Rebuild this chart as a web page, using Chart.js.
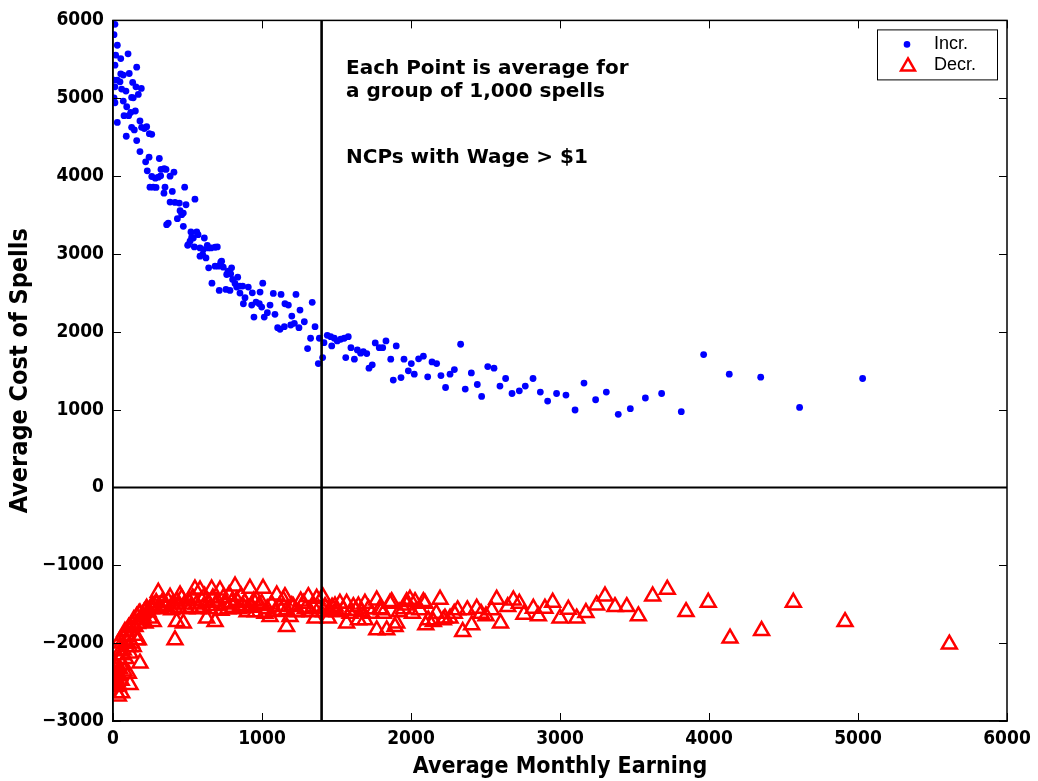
<!DOCTYPE html>
<html>
<head>
<meta charset="utf-8">
<script src="https://cdn.jsdelivr.net/npm/chart.js@4.4.1/dist/chart.umd.min.js"></script>
<style>
html,body{margin:0;padding:0;background:#ffffff;}
#c{display:block;}
</style>
</head>
<body>
<canvas id="c" width="1038" height="781"></canvas>
<script>
// ---------- data ----------
const xTicks = [0, 1000, 2000, 3000, 4000, 5000, 6000];
const yTicks = [-3000, -2000, -1000, 0, 1000, 2000, 3000, 4000, 5000, 6000];
const xLabel = 'Average Monthly Earning';
const yLabel = 'Average Cost of Spells';
const seriesNames = ['Incr.', 'Decr.'];
const noteLines = ['Each Point is average for', 'a group of 1,000 spells', 'NCPs with Wage > $1'];
const wageCut = 1400;   // vertical reference line (x)
const zeroLine = 0;     // horizontal reference line (y)

const incrPoints = [
[13,5950],[7,5817],[29,5681],[18,5553],[52,5510],[101,5570],[13,5425],[159,5399],[52,5314],[109,5318],
[69,5297],[7,5233],[29,5233],[47,5211],[132,5203],[154,5147],[190,5126],[13,5147],[58,5118],[87,5092],
[170,5049],[136,5006],[125,5010],[7,5006],[69,4964],[13,4942],[92,4891],[150,4836],[74,4776],[105,4776],
[119,4818],[29,4690],[181,4708],[125,4626],[143,4593],[192,4626],[226,4635],[210,4610],[244,4545],[260,4537],
[89,4512],[159,4456],[181,4315],[242,4243],[311,4226],[219,4183],[230,4068],[322,4085],[344,4094],[356,4085],
[260,3995],[284,3973],[304,3986],[320,4004],[383,3999],[409,4050],[248,3858],[270,3858],[289,3854],[349,3858],
[481,3858],[342,3781],[398,3803],[550,3704],[383,3666],[416,3662],[445,3653],[490,3632],[450,3556],[472,3525],
[461,3504],[432,3453],[371,3397],[360,3376],[472,3355],[523,3282],[562,3282],[571,3248],[539,3205],[517,3163],
[506,3120],[613,3205],[584,3077],[606,3056],[640,3077],[685,3086],[700,3090],[624,2949],[729,2906],[528,3214],
[501,3111],[546,3090],[633,3111],[658,3077],[584,2971],[602,2992],[642,2821],[685,2843],[707,2843],[723,2894],
[740,2830],[796,2821],[773,2778],[763,2736],[790,2744],[837,2702],[803,2672],[819,2621],[830,2574],[852,2587],
[870,2587],[664,2625],[713,2531],[758,2544],[785,2531],[852,2497],[886,2437],[908,2574],[935,2501],[987,2510],
[1005,2625],[875,2360],[931,2343],[960,2382],[982,2360],[946,2189],[998,2317],[1015,2189],[1036,2245],[1054,2343],
[1087,2224],[1076,2493],[1128,2480],[1154,2360],[1177,2343],[1228,2480],[1105,2053],[1121,2032],[1150,2066],[1193,2087],
[1217,2109],[1248,2053],[1200,2202],[1255,2279],[1284,2129],[1337,2378],[1356,2066],[1326,1917],[1306,1784],[1378,1592],
[1407,1668],[1416,1860],[1385,1917],[1438,1955],[1461,1937],[1485,1917],[1505,1882],[1528,1904],[1552,1917],[1579,1937],
[1468,1818],[1597,1796],[1640,1767],[1662,1725],[1680,1745],[1703,1720],[1562,1668],[1620,1648],[1718,1533],[1740,1575],
[1760,1857],[1787,1796],[1810,1796],[1832,1882],[1901,1818],[1864,1648],[1881,1379],[1933,1412],[1953,1648],[2002,1592],
[1982,1498],[2022,1456],[2051,1652],[2083,1686],[2112,1421],[2141,1613],[2172,1592],[2201,1438],[2232,1284],[2262,1456],
[2291,1515],[2333,1840],[2364,1264],[2405,1472],[2445,1323],[2474,1169],[2515,1553],[2557,1532],[2597,1302],[2635,1400],
[2678,1207],[2727,1242],[2767,1302],[2819,1400],[2868,1225],[2917,1110],[2977,1207],[3040,1187],[3101,995],[3161,1341],
[3239,1127],[3311,1225],[3391,939],[3472,1012],[3573,1149],[3682,1207],[3814,973],[3964,1707],[4136,1456],[4347,1417],
[4608,1028],[5031,1400]
];

const decrPoints = [
[5,-2250],[8,-2400],[10,-2470],[12,-2520],[15,-2560],[18,-2350],[20,-2450],[22,-2300],[25,-2640],[28,-2500],
[30,-2380],[35,-2550],[36,-2680],[40,-2420],[42,-2200],[45,-2330],[48,-1960],[50,-2100],[55,-2480],[58,-2640],
[60,-2000],[62,-2280],[65,-2150],[69,-2090],[72,-1900],[75,-2360],[80,-1850],[85,-2200],[90,-1980],[92,-1850],
[95,-2000],[100,-1920],[103,-2390],[105,-1800],[110,-2050],[114,-2130],[114,-2535],[118,-1790],[125,-2000],[130,-1760],
[136,-2045],[140,-1700],[148,-1790],[150,-1900],[159,-1960],[159,-1660],[165,-1750],[170,-1960],[175,-1620],[181,-2258],
[181,-1617],[190,-1700],[192,-1703],[200,-1650],[210,-1600],[215,-1745],[220,-1580],[226,-1553],[235,-1600],[248,-1681],
[255,-1560],[260,-1520],[270,-1725],[282,-1533],[290,-1480],[304,-1348],[310,-1520],[320,-1560],[330,-1480],[345,-1520],
[360,-1533],[370,-1460],[383,-1412],[394,-1575],[400,-1500],[416,-1959],[427,-1725],[430,-1460],[440,-1540],[450,-1383],
[461,-1425],[472,-1745],[480,-1500],[495,-1560],[510,-1460],[520,-1540],[535,-1420],[550,-1306],[560,-1500],[570,-1560],
[584,-1319],[595,-1450],[605,-1540],[615,-1400],[628,-1681],[640,-1480],[650,-1560],[662,-1306],[670,-1420],[685,-1725],
[690,-1520],[700,-1460],[718,-1319],[725,-1580],[740,-1420],[755,-1500],[770,-1560],[780,-1380],[795,-1480],[805,-1540],
[819,-1268],[830,-1450],[845,-1560],[860,-1400],[870,-1520],[885,-1480],[900,-1600],[919,-1297],[925,-1540],[931,-1533],
[945,-1460],[955,-1600],[965,-1447],[980,-1520],[998,-1489],[1007,-1297],[1020,-1617],[1035,-1560],[1054,-1660],[1065,-1500],
[1087,-1597],[1099,-1383],[1116,-1533],[1130,-1580],[1143,-1447],[1154,-1404],[1165,-1575],[1165,-1789],[1188,-1660],[1200,-1520],
[1210,-1533],[1225,-1600],[1244,-1597],[1260,-1460],[1277,-1489],[1290,-1560],[1311,-1404],[1325,-1600],[1344,-1533],[1356,-1681],
[1367,-1425],[1380,-1560],[1407,-1404],[1415,-1600],[1423,-1533],[1445,-1681],[1452,-1575],[1470,-1540],[1490,-1524],[1505,-1600],
[1523,-1489],[1545,-1575],[1568,-1489],[1568,-1745],[1591,-1617],[1613,-1533],[1630,-1580],[1647,-1524],[1647,-1703],[1670,-1600],
[1691,-1489],[1691,-1703],[1715,-1560],[1736,-1617],[1770,-1447],[1770,-1831],[1790,-1560],[1803,-1575],[1814,-1617],[1837,-1831],
[1859,-1489],[1870,-1468],[1893,-1789],[1904,-1745],[1920,-1600],[1950,-1560],[1971,-1468],[1971,-1511],[1993,-1438],[2010,-1620],
[2027,-1468],[2060,-1575],[2083,-1468],[2094,-1489],[2099,-1767],[2116,-1703],[2150,-1725],[2170,-1620],[2195,-1438],[2217,-1703],
[2228,-1681],[2262,-1681],[2290,-1620],[2313,-1575],[2347,-1853],[2378,-1575],[2407,-1767],[2441,-1553],[2470,-1620],[2503,-1652],
[2541,-1575],[2575,-1438],[2601,-1745],[2649,-1533],[2687,-1447],[2727,-1489],[2758,-1630],[2821,-1553],[2855,-1652],[2899,-1553],
[2951,-1476],[3000,-1681],[3056,-1566],[3112,-1681],[3174,-1609],[3246,-1511],[3302,-1396],[3369,-1533],[3448,-1533],[3526,-1652],
[3622,-1396],[3720,-1310],[3846,-1597],[3995,-1476],[4141,-1937],[4353,-1840],[4566,-1476],[4913,-1725],[5613,-2014]
];

// ---------- styling ----------
const COND = "'DejaVu Sans Condensed','DejaVu Sans',sans-serif";
const BLUE = '#0000ff';
const RED = '#ff0000';
const xMin = xTicks[0], xMax = xTicks[xTicks.length - 1];
const yMin = yTicks[0], yMax = yTicks[yTicks.length - 1];

const toXY = arr => arr.map(p => ({x: p[0], y: p[1]}));
const plainNum = v => (v < 0 ? '\u2212' + Math.abs(v) : String(v));

function drawTriangle(ctx, cx, cy, r) {
  ctx.beginPath();
  for (let i = 0; i < 3; i++) {
    const a = -Math.PI / 2 + i * 2 * Math.PI / 3;
    const px = cx + r * Math.cos(a), py = cy + r * Math.sin(a);
    if (i === 0) ctx.moveTo(px, py); else ctx.lineTo(px, py);
  }
  ctx.closePath();
}

const framePlugin = {
  id: 'frame',
  afterDraw(chart) {
    const {ctx, chartArea: a, scales} = chart;
    ctx.save();
    // box
    ctx.strokeStyle = '#000';
    ctx.lineWidth = 1.5;
    ctx.strokeRect(a.left, a.top, a.right - a.left, a.bottom - a.top);
    // inward ticks on all four sides
    ctx.lineWidth = 1;
    const TL = 8;
    xTicks.forEach(v => {
      const px = Math.round(scales.x.getPixelForValue(v)) + 0.5;
      ctx.beginPath();
      ctx.moveTo(px, a.bottom); ctx.lineTo(px, a.bottom - TL);
      ctx.moveTo(px, a.top); ctx.lineTo(px, a.top + TL);
      ctx.stroke();
    });
    yTicks.forEach(v => {
      const py = Math.round(scales.y.getPixelForValue(v)) + 0.5;
      ctx.beginPath();
      ctx.moveTo(a.left, py); ctx.lineTo(a.left + TL, py);
      ctx.moveTo(a.right, py); ctx.lineTo(a.right - TL, py);
      ctx.stroke();
    });
    // annotation text
    ctx.fillStyle = '#000';
    ctx.font = "bold 20px 'DejaVu Sans', sans-serif";
    ctx.textBaseline = 'alphabetic';
    ctx.textAlign = 'left';
    const nx = a.left + 233;
    ctx.fillText(noteLines[0], nx, a.top + 54);
    ctx.fillText(noteLines[1], nx, a.top + 77);
    ctx.fillText(noteLines[2], nx, a.top + 143);
    // legend box
    const bw = 120, bh = 50;
    const bx = a.right - 10 - bw, by = a.top + 9;
    ctx.fillStyle = '#fff';
    ctx.fillRect(bx, by, bw, bh);
    ctx.strokeStyle = '#000';
    ctx.lineWidth = 1;
    ctx.strokeRect(bx + 0.5, by + 0.5, bw, bh);
    // entry 1
    ctx.fillStyle = BLUE;
    ctx.beginPath();
    ctx.arc(bx + 30, by + 15, 3.3, 0, Math.PI * 2);
    ctx.fill();
    // entry 2
    ctx.strokeStyle = RED;
    ctx.lineWidth = 2.5;
    drawTriangle(ctx, bx + 31, by + 37, 8);
    ctx.stroke();
    ctx.fillStyle = '#000';
    ctx.font = "18px 'Liberation Sans', Arial, sans-serif";
    ctx.textBaseline = 'middle';
    ctx.fillText(seriesNames[0], bx + 57, by + 15);
    ctx.fillText(seriesNames[1], bx + 57, by + 36);
    ctx.restore();
  }
};

new Chart(document.getElementById('c'), {
  type: 'scatter',
  data: {
    datasets: [
      {
        label: seriesNames[0],
        data: toXY(incrPoints),
        pointStyle: 'circle',
        pointRadius: 3.4,
        backgroundColor: BLUE,
        borderColor: BLUE,
        borderWidth: 0,
        order: 3
      },
      {
        label: seriesNames[1],
        data: toXY(decrPoints),
        pointStyle: 'triangle',
        pointRadius: 8.6,
        backgroundColor: 'rgba(0,0,0,0)',
        borderColor: RED,
        borderWidth: 2.5,
        order: 2
      },
      {
        label: 'cut',
        type: 'line',
        data: [{x: wageCut, y: yMin}, {x: wageCut, y: yMax}],
        borderColor: '#000',
        borderWidth: 2.6,
        pointRadius: 0,
        fill: false,
        tension: 0,
        order: 0
      },
      {
        label: 'zero',
        type: 'line',
        data: [{x: xMin, y: zeroLine}, {x: xMax, y: zeroLine}],
        borderColor: '#000',
        borderWidth: 2,
        pointRadius: 0,
        fill: false,
        tension: 0,
        order: 1
      }
    ]
  },
  options: {
    responsive: false,
    animation: false,
    devicePixelRatio: 1,
    layout: {padding: {top: 18, right: 31, left: 0, bottom: 0}},
    plugins: {legend: {display: false}, tooltip: {enabled: false}},
    scales: {
      x: {
        type: 'linear',
        min: xMin, max: xMax,
        afterBuildTicks: s => { s.ticks = xTicks.map(v => ({value: v})); },
        ticks: {
          color: '#000',
          font: {family: COND, size: 19, weight: 'bold'},
          padding: 7,
          maxRotation: 0,
          autoSkip: false,
          callback: v => plainNum(v)
        },
        grid: {display: false, drawTicks: false},
        border: {display: true, color: '#000', width: 1.5},
        title: {
          display: true,
          text: xLabel,
          color: '#000',
          font: {family: COND, size: 23, weight: 'bold'},
          padding: {top: 0, bottom: 0}
        },
        afterFit: s => { s.height = 60; }
      },
      y: {
        type: 'linear',
        min: yMin, max: yMax,
        afterBuildTicks: s => { s.ticks = yTicks.map(v => ({value: v})); },
        ticks: {
          color: '#000',
          font: {family: COND, size: 19, weight: 'bold'},
          padding: 9,
          autoSkip: false,
          callback: v => plainNum(v)
        },
        grid: {display: false, drawTicks: false},
        border: {display: true, color: '#000', width: 1.5},
        title: {
          display: true,
          text: yLabel,
          color: '#000',
          font: {family: COND, size: 25, weight: 'bold'},
          padding: {top: 5, bottom: 0}
        },
        afterFit: s => { s.width = 113; }
      }
    }
  },
  plugins: [framePlugin]
});
</script>
</body>
</html>
